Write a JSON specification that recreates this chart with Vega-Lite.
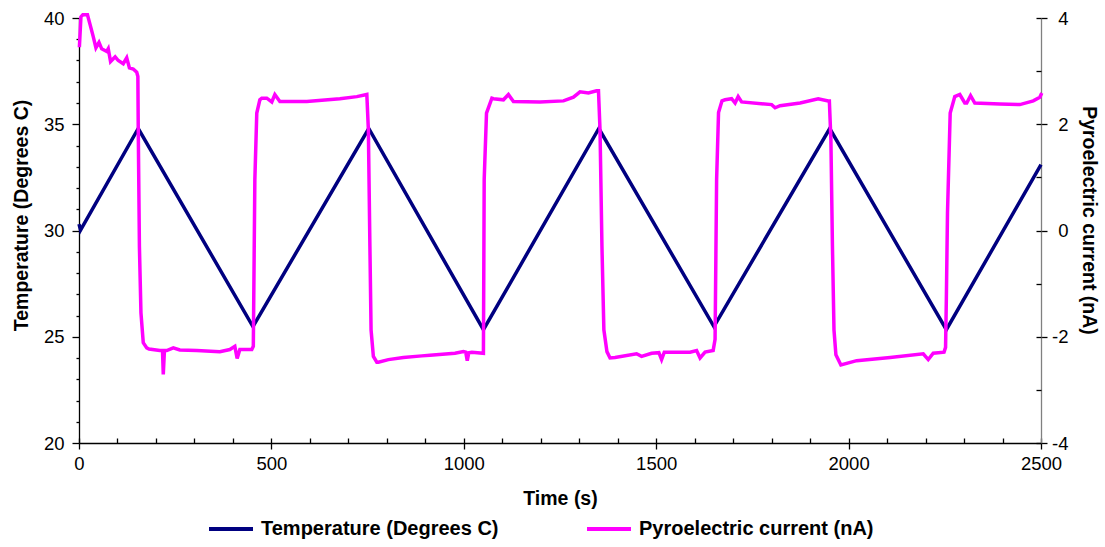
{
  "$schema": "https://vega.github.io/schema/vega-lite/v6.json",
  "width": 962,
  "height": 425,
  "autosize": {"type": "none"},
  "padding": {"left": 79, "top": 18, "right": 64, "bottom": 104},
  "background": "white",
  "config": {
    "view": {"stroke": null},
    "font": "Liberation Sans",
    "axis": {
      "grid": false,
      "labelFont": "Liberation Sans",
      "labelFontSize": 18.5,
      "labelColor": "black",
      "labelFlush": false,
      "labelExpr": "'' + datum.value",
      "titleFont": "Liberation Sans",
      "titleFontSize": 19.5,
      "titleFontWeight": "bold",
      "titleColor": "black",
      "domainColor": "black",
      "tickColor": "black",
      "domainWidth": 1.3,
      "tickWidth": 1.3
    }
  },
  "datasets": {
    "temp": [
      {"t": 0, "v": 30.3}, {"t": 4, "v": 30.02}, {"t": 154, "v": 34.8}, {"t": 452, "v": 25.48},
      {"t": 753, "v": 34.8}, {"t": 1051, "v": 25.33}, {"t": 1351, "v": 34.8}, {"t": 1650, "v": 25.48},
      {"t": 1951, "v": 34.8}, {"t": 2254, "v": 25.33}, {"t": 2500, "v": 33.1}
    ],
    "pyro": [
      {"t": 1, "v": 3.45}, {"t": 5, "v": 4.02}, {"t": 10, "v": 4.06}, {"t": 22, "v": 4.06}, {"t": 29, "v": 3.87},
      {"t": 37, "v": 3.65}, {"t": 44, "v": 3.44}, {"t": 52, "v": 3.54}, {"t": 59, "v": 3.42}, {"t": 72, "v": 3.37},
      {"t": 76, "v": 3.42}, {"t": 82, "v": 3.18}, {"t": 94, "v": 3.27}, {"t": 102, "v": 3.2}, {"t": 115, "v": 3.14},
      {"t": 124, "v": 3.25}, {"t": 131, "v": 3.06}, {"t": 141, "v": 3.04}, {"t": 150, "v": 2.98}, {"t": 153, "v": 2.9},
      {"t": 154, "v": 1.9}, {"t": 157, "v": -0.3}, {"t": 161, "v": -1.55}, {"t": 167, "v": -2.11}, {"t": 176, "v": -2.21},
      {"t": 182, "v": -2.23}, {"t": 210, "v": -2.26}, {"t": 217, "v": -2.26}, {"t": 219, "v": -2.71}, {"t": 222, "v": -2.26},
      {"t": 228, "v": -2.26}, {"t": 245, "v": -2.21}, {"t": 262, "v": -2.25}, {"t": 306, "v": -2.26}, {"t": 366, "v": -2.28},
      {"t": 392, "v": -2.24}, {"t": 405, "v": -2.18}, {"t": 411, "v": -2.41}, {"t": 418, "v": -2.24}, {"t": 449, "v": -2.24},
      {"t": 453, "v": -2.18}, {"t": 457, "v": 0.96}, {"t": 462, "v": 2.21}, {"t": 470, "v": 2.46}, {"t": 475, "v": 2.49},
      {"t": 488, "v": 2.49}, {"t": 501, "v": 2.42}, {"t": 509, "v": 2.56}, {"t": 522, "v": 2.43}, {"t": 592, "v": 2.43},
      {"t": 678, "v": 2.48}, {"t": 722, "v": 2.52}, {"t": 748, "v": 2.56}, {"t": 752, "v": 1.9}, {"t": 756, "v": -0.3},
      {"t": 759, "v": -1.87}, {"t": 765, "v": -2.37}, {"t": 774, "v": -2.48}, {"t": 778, "v": -2.48}, {"t": 804, "v": -2.43},
      {"t": 843, "v": -2.39}, {"t": 891, "v": -2.36}, {"t": 912, "v": -2.35}, {"t": 977, "v": -2.31}, {"t": 999, "v": -2.28},
      {"t": 1005, "v": -2.29}, {"t": 1009, "v": -2.45}, {"t": 1013, "v": -2.3}, {"t": 1021, "v": -2.29}, {"t": 1051, "v": -2.31},
      {"t": 1053, "v": 0.96}, {"t": 1059, "v": 2.21}, {"t": 1073, "v": 2.49}, {"t": 1077, "v": 2.48}, {"t": 1103, "v": 2.46},
      {"t": 1116, "v": 2.56}, {"t": 1129, "v": 2.43}, {"t": 1198, "v": 2.42}, {"t": 1259, "v": 2.44}, {"t": 1285, "v": 2.51},
      {"t": 1302, "v": 2.61}, {"t": 1324, "v": 2.59}, {"t": 1345, "v": 2.63}, {"t": 1350, "v": 2.63}, {"t": 1354, "v": 1.9},
      {"t": 1359, "v": -0.29}, {"t": 1364, "v": -1.87}, {"t": 1372, "v": -2.28}, {"t": 1380, "v": -2.4}, {"t": 1393, "v": -2.39},
      {"t": 1449, "v": -2.32}, {"t": 1462, "v": -2.37}, {"t": 1488, "v": -2.31}, {"t": 1507, "v": -2.3}, {"t": 1514, "v": -2.43},
      {"t": 1521, "v": -2.29}, {"t": 1588, "v": -2.29}, {"t": 1605, "v": -2.26}, {"t": 1614, "v": -2.4}, {"t": 1627, "v": -2.29},
      {"t": 1648, "v": -2.26}, {"t": 1653, "v": -2.05}, {"t": 1657, "v": 0.96}, {"t": 1662, "v": 2.22}, {"t": 1671, "v": 2.44},
      {"t": 1679, "v": 2.46}, {"t": 1696, "v": 2.48}, {"t": 1705, "v": 2.4}, {"t": 1713, "v": 2.52}, {"t": 1722, "v": 2.42},
      {"t": 1800, "v": 2.37}, {"t": 1809, "v": 2.31}, {"t": 1822, "v": 2.35}, {"t": 1874, "v": 2.4}, {"t": 1921, "v": 2.48},
      {"t": 1947, "v": 2.44}, {"t": 1950, "v": 2.44}, {"t": 1954, "v": 1.71}, {"t": 1958, "v": -0.29}, {"t": 1962, "v": -1.87},
      {"t": 1967, "v": -2.34}, {"t": 1980, "v": -2.53}, {"t": 2021, "v": -2.45}, {"t": 2108, "v": -2.39}, {"t": 2194, "v": -2.32},
      {"t": 2207, "v": -2.43}, {"t": 2220, "v": -2.31}, {"t": 2248, "v": -2.29}, {"t": 2252, "v": -2.2}, {"t": 2254, "v": -1.3},
      {"t": 2257, "v": 0.33}, {"t": 2264, "v": 2.21}, {"t": 2276, "v": 2.52}, {"t": 2289, "v": 2.56}, {"t": 2302, "v": 2.4},
      {"t": 2307, "v": 2.4}, {"t": 2317, "v": 2.54}, {"t": 2328, "v": 2.4}, {"t": 2393, "v": 2.38}, {"t": 2445, "v": 2.37},
      {"t": 2480, "v": 2.44}, {"t": 2497, "v": 2.51}, {"t": 2502, "v": 2.59}
    ]
  },
  "layer": [
    {
      "data": {"name": "temp"},
      "mark": {"type": "line", "strokeWidth": 3.5},
      "encoding": {
        "x": {
          "field": "t", "type": "quantitative",
          "scale": {"domain": [0, 2500], "nice": false, "zero": false},
          "axis": {"orient": "bottom", "values": [0, 500, 1000, 1500, 2000, 2500], "tickSize": 6, "labelPadding": 5, "title": "Time (s)", "titlePadding": 17}
        },
        "y": {
          "field": "v", "type": "quantitative",
          "scale": {"domain": [20, 40], "nice": false, "zero": false},
          "axis": {"orient": "left", "values": [20, 25, 30, 35, 40], "tickSize": 7, "labelPadding": 8, "labelAlign": "right", "title": "Temperature (Degrees C)", "titlePadding": 12, "titleY": 197}
        },
        "color": {
          "datum": "Temperature (Degrees C)", "type": "nominal",
          "scale": {"domain": ["Temperature (Degrees C)", "Pyroelectric current (nA)"], "range": ["#000080", "#FF00FF"]},
          "legend": {
            "orient": "none", "legendX": 128, "legendY": 487, "direction": "horizontal", "title": null,
            "symbolType": "stroke", "symbolSize": 1936, "symbolStrokeWidth": 4,
            "labelFont": "Liberation Sans", "labelFontSize": 20, "labelFontWeight": "bold", "labelColor": "black",
            "columnPadding": 80, "labelOffset": 6, "labelLimit": 400
          }
        }
      }
    },
    {
      "data": {"name": "pyro"},
      "mark": {"type": "line", "strokeWidth": 3.5},
      "encoding": {
        "x": {
          "field": "t", "type": "quantitative",
          "scale": {"domain": [0, 2500], "nice": false, "zero": false},
          "axis": {"orient": "bottom", "values": [0, 100, 200, 300, 400, 500, 600, 700, 800, 900, 1000, 1100, 1200, 1300, 1400, 1500, 1600, 1700, 1800, 1900, 2000, 2100, 2200, 2300, 2400, 2500], "tickSize": -5, "labels": false, "domain": false, "title": null}
        },
        "y": {
          "field": "v", "type": "quantitative",
          "scale": {"domain": [-4, 4], "nice": false, "zero": false},
          "axis": {"orient": "right", "values": [-4, -2, 0, 2, 4], "tickSize": 6, "labelPadding": 21, "labelAlign": "right", "domainColor": "#808080", "title": "Pyroelectric current (nA)", "titlePadding": 10, "titleY": 202}
        },
        "color": {"datum": "Pyroelectric current (nA)", "type": "nominal"}
      }
    },
    {
      "data": {"name": "pyro"},
      "mark": {"type": "line", "opacity": 0},
      "encoding": {
        "x": {"field": "t", "type": "quantitative", "scale": {"domain": [0, 2500], "nice": false, "zero": false}, "axis": null},
        "y": {
          "field": "v", "type": "quantitative",
          "scale": {"domain": [-4, 4], "nice": false, "zero": false},
          "axis": {"orient": "right", "values": [-4, -3, -2, -1, 0, 1, 2, 3, 4], "tickSize": -5, "labels": false, "domain": false, "title": null}
        }
      }
    },
    {
      "data": {"name": "temp"},
      "mark": {"type": "line", "opacity": 0},
      "encoding": {
        "x": {"field": "t", "type": "quantitative", "scale": {"domain": [0, 2500], "nice": false, "zero": false}, "axis": null},
        "y": {
          "field": "v", "type": "quantitative",
          "scale": {"domain": [20, 40], "nice": false, "zero": false},
          "axis": {"orient": "left", "values": [21, 22, 23, 24, 26, 27, 28, 29, 31, 32, 33, 34, 36, 37, 38, 39], "tickSize": 3, "labels": false, "domain": false, "title": null}
        }
      }
    }
  ],
  "resolve": {"scale": {"y": "independent"}, "axis": {"x": "independent", "y": "independent"}}
}
